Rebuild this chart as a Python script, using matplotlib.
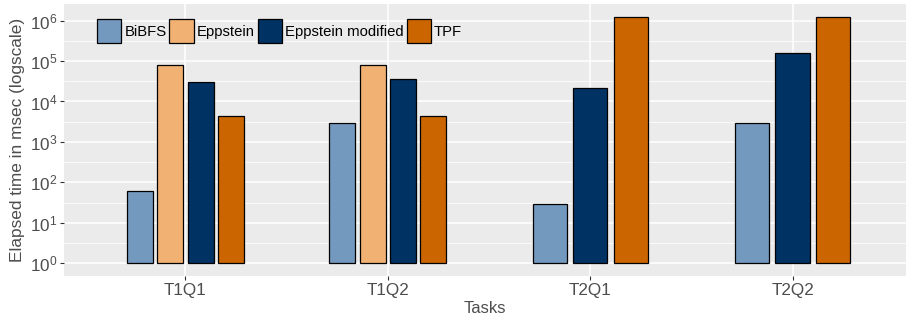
import matplotlib
matplotlib.use("Agg")
import matplotlib.pyplot as plt
from matplotlib.ticker import FixedLocator, NullFormatter
import numpy as np

tasks = ["T1Q1", "T1Q2", "T2Q1", "T2Q2"]
series = ["BiBFS", "Eppstein", "Eppstein modified", "TPF"]
bibfs = [63, 3000, 29, 3000]
eppstein = [82000, 82000, None, None]
eppstein_mod = [31000, 35000, 22000, 155000]
tpf = [4300, 4300, 1250000, 1250000]
values = [bibfs, eppstein, eppstein_mod, tpf]
colors = ["#7399BE", "#F1B173", "#003263", "#CB6500"]

plt.rcParams['font.family'] = ['Liberation Sans', 'DejaVu Sans']
plt.rcParams['mathtext.fontset'] = 'custom'
plt.rcParams['mathtext.rm'] = 'Liberation Sans'
plt.rcParams['mathtext.it'] = 'Liberation Sans'

fig = plt.figure(figsize=(9.06, 3.2), dpi=100)
ax = fig.add_axes([64/906, 1-276/320, (906-64)/906, 272/320])
ax.set_facecolor("#EBEBEB")

group_w = 0.6
handles = {}
for ti, task in enumerate(tasks):
    present = [si for si in range(len(series)) if values[si][ti] is not None]
    n = len(present)
    slot = group_w / n
    for k, si in enumerate(present):
        xc = ti + 1 - group_w/2 + slot*(k + 0.5)
        v = values[si][ti]
        b = ax.bar(xc, v - 1, bottom=1, width=slot*0.85, color=colors[si],
                   edgecolor="black", linewidth=0.9, zorder=3)
        handles[si] = b

ax.set_yscale("log")
ax.set_ylim(10**-0.314, 10**6.41)
ax.set_xlim(0.4, 4.56)

majors = [10.0**k for k in range(0, 7)]
minors = [10.0**(k+0.5) for k in range(-1, 7)]
ax.yaxis.set_major_locator(FixedLocator(majors))
ax.yaxis.set_minor_locator(FixedLocator(minors))
ax.yaxis.set_minor_formatter(NullFormatter())
ax.set_yticklabels([r"$10^{%d}$" % k for k in range(0, 7)])
ax.set_xticks(range(1, len(tasks)+1))
ax.set_xticklabels(tasks)

ax.grid(which="major", color="white", linewidth=1.1, zorder=0)
ax.grid(which="minor", axis="y", color="white", linewidth=0.55, zorder=0)
ax.set_axisbelow(True)
for s in ax.spines.values():
    s.set_visible(False)
ax.tick_params(which="major", length=3, width=0.8, color="#333333",
               labelcolor="#4D4D4D", labelsize=12.3, pad=2)
ax.tick_params(which="minor", length=0)

ax.set_xlabel("Tasks", fontsize=12, color="#4D4D4D", labelpad=2)
ax.set_ylabel("Elapsed time in msec (logscale)", fontsize=12.4, color="#4D4D4D", labelpad=3)

leg = ax.legend([handles[i] for i in range(4)], series, ncol=4, loc="upper left",
                bbox_to_anchor=((97-64)/842, (276-19)/272), frameon=False,
                fontsize=10.7, handlelength=1.62, handleheight=2.1,
                handletextpad=0.22, columnspacing=0.2, borderpad=0, borderaxespad=0)

fig.savefig("out.png", dpi=100)
